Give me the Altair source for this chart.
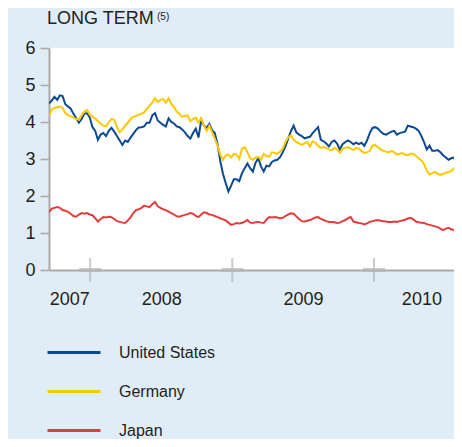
import altair as alt
import pandas as pd

countries = ["United States", "Germany", "Japan"]
colors = ["#0b4a92", "#fcc800", "#e63b3b"]

us = [4.50, 4.58, 4.68, 4.60, 4.72, 4.70, 4.48, 4.42, 4.36, 4.22,
      4.10, 3.98, 4.08, 4.22, 4.24, 4.12, 3.86, 3.76, 3.52, 3.66,
      3.70, 3.62, 3.76, 3.84, 3.74, 3.62, 3.50, 3.38, 3.50, 3.46,
      3.58, 3.68, 3.78, 3.85, 3.86, 3.88, 3.98, 3.98, 4.18, 4.24,
      4.04, 3.98, 3.92, 3.88, 4.10, 4.00, 3.96, 3.88, 3.86, 3.80,
      3.72, 3.62, 3.55, 3.70, 3.82, 3.58, 4.05, 3.90, 3.84, 3.95,
      3.78, 3.70, 3.40, 2.95, 2.60, 2.35, 2.12, 2.28, 2.45, 2.45,
      2.40, 2.62, 2.75, 2.88, 2.75, 2.66, 2.90, 3.02, 2.80, 2.66,
      2.82, 2.80, 2.92, 2.96, 2.98, 3.05, 3.18, 3.35, 3.55, 3.75,
      3.90, 3.72, 3.66, 3.62, 3.56, 3.58, 3.60, 3.70, 3.78, 3.86,
      3.52, 3.48, 3.42, 3.34, 3.46, 3.50, 3.42, 3.26, 3.40, 3.46,
      3.50, 3.46, 3.40, 3.44, 3.40, 3.44, 3.36, 3.50, 3.70, 3.84,
      3.86, 3.82, 3.74, 3.68, 3.66, 3.70, 3.74, 3.76, 3.66, 3.70,
      3.72, 3.74, 3.90, 3.88, 3.86, 3.82, 3.76, 3.62, 3.45, 3.26,
      3.36, 3.22, 3.22, 3.24, 3.18, 3.10, 3.04, 2.98, 3.02, 3.04,
      2.90, 2.76, 2.62]

de = [4.16, 4.34, 4.38, 4.40, 4.42, 4.38, 4.24, 4.18, 4.16, 4.12,
      4.08, 4.06, 4.18, 4.28, 4.32, 4.20, 4.14, 4.10, 4.02, 3.96,
      3.90, 3.88, 4.00, 4.08, 4.06, 3.86, 3.72, 3.80, 3.90, 3.98,
      4.08, 4.14, 4.16, 4.20, 4.22, 4.26, 4.36, 4.44, 4.52, 4.64,
      4.54, 4.60, 4.62, 4.52, 4.64, 4.48, 4.40, 4.28, 4.22, 4.14,
      4.16, 4.18, 4.02, 4.08, 4.12, 3.98, 4.10, 3.90, 3.76, 3.90,
      3.72, 3.55, 3.36, 3.12, 2.98, 3.10, 3.12, 3.04, 3.14, 3.12,
      3.00, 3.28, 3.32, 3.18, 3.02, 2.98, 3.04, 3.06, 2.98, 3.14,
      3.08, 3.06, 3.18, 3.16, 3.14, 3.20, 3.28, 3.46, 3.58, 3.64,
      3.52, 3.46, 3.42, 3.38, 3.42, 3.46, 3.34, 3.48, 3.44, 3.36,
      3.30, 3.32, 3.30, 3.26, 3.24, 3.30, 3.26, 3.17, 3.28, 3.30,
      3.32, 3.28, 3.24, 3.30, 3.28, 3.22, 3.16, 3.18, 3.22, 3.36,
      3.38, 3.32, 3.26, 3.22, 3.20, 3.18, 3.22, 3.18, 3.12, 3.14,
      3.16, 3.12, 3.10, 3.14, 3.14, 3.08, 3.02, 2.96, 2.86, 2.68,
      2.58, 2.62, 2.65, 2.60, 2.57, 2.60, 2.63, 2.64, 2.68, 2.74,
      2.60, 2.46, 2.36]

jp = [1.56, 1.66, 1.68, 1.70, 1.68, 1.62, 1.60, 1.57, 1.52, 1.46,
      1.44, 1.50, 1.54, 1.52, 1.54, 1.50, 1.48, 1.40, 1.31, 1.38,
      1.43, 1.42, 1.44, 1.43, 1.38, 1.32, 1.30, 1.28, 1.27, 1.34,
      1.42, 1.54, 1.62, 1.64, 1.68, 1.74, 1.72, 1.70, 1.78, 1.84,
      1.72, 1.68, 1.64, 1.62, 1.58, 1.54, 1.50, 1.45, 1.44, 1.47,
      1.49, 1.51, 1.54, 1.52, 1.46, 1.43, 1.50, 1.56, 1.54, 1.50,
      1.49, 1.46, 1.43, 1.40, 1.37, 1.34, 1.28, 1.22, 1.24, 1.27,
      1.26, 1.27, 1.31, 1.35, 1.28, 1.27, 1.29, 1.30, 1.28, 1.27,
      1.36, 1.43, 1.42, 1.43, 1.42, 1.40, 1.41, 1.46, 1.50, 1.53,
      1.52, 1.45, 1.38, 1.32, 1.31, 1.33, 1.35, 1.38, 1.42, 1.43,
      1.38, 1.35, 1.32, 1.30, 1.30, 1.29, 1.27, 1.28, 1.32, 1.35,
      1.40, 1.43, 1.31, 1.29, 1.27, 1.26, 1.23, 1.26, 1.30, 1.32,
      1.34, 1.35, 1.33, 1.32, 1.31, 1.30, 1.30, 1.31, 1.30, 1.32,
      1.34, 1.36, 1.39, 1.41, 1.37, 1.31, 1.29, 1.28, 1.27, 1.24,
      1.22, 1.20, 1.18, 1.16, 1.12, 1.08, 1.12, 1.14, 1.10, 1.08,
      1.04, 1.00, 0.95]

year_starts = ["2008-01-01", "2009-01-01", "2010-01-01"]
year_labels = [(2007, 11, 8), (2008, 7, 2), (2009, 7, 2), (2010, 5, 3)]
y_ticks = [0, 1, 2, 3, 4, 5, 6]

dates = pd.date_range("2007-09-17", periods=len(us), freq="7D").strftime("%Y-%m-%d")
rows = []
for name, series in zip(countries, [us, de, jp]):
    for d, v in zip(dates, series):
        rows.append({"country": name, "date": d, "value": v})
df = pd.DataFrame(rows)

def dt(y, m, d):
    return alt.DateTime(year=y, month=m, date=d, utc=True)

GRAY = "#a9a9a9"
TXT = "#231f20"
FONT = "Liberation Sans"

xscale = alt.Scale(type="utc", domain=[dt(2007, 9, 17), dt(2010, 7, 26)])
yscale = alt.Scale(domain=[0, 6], nice=False, zero=False)

xaxis = alt.Axis(values=[dt(*v) for v in year_labels],
                 labelExpr="utcFormat(datum.value, '%Y')",
                 tickSize=0, labelPadding=20, labelFontSize=18,
                 labelColor=TXT, labelFont=FONT, domainColor=GRAY,
                 domainWidth=2, grid=False, title=None,
                 labelFlush=False, labelOverlap=False)
yaxis = alt.Axis(values=y_ticks, tickSize=9, tickWidth=1.5,
                 tickColor=GRAY, domainColor=GRAY, domainWidth=2,
                 labelPadding=5, labelFontSize=18, labelColor=TXT,
                 labelFont=FONT, grid=False, title=None,
                 labelOverlap=False)

lines = alt.Chart(df).mark_line(strokeWidth=2, clip=True).encode(
    x=alt.X("date:T", scale=xscale, axis=xaxis),
    y=alt.Y("value:Q", scale=yscale, axis=yaxis),
    color=alt.Color("country:N",
                    scale=alt.Scale(domain=countries, range=colors),
                    sort=countries,
                    legend=alt.Legend(title=None, orient="none",
                                      legendX=15.5, legendY=295,
                                      direction="vertical",
                                      symbolType="M-3.31,0L3.31,0",
                                      symbolSize=256,
                                      symbolStrokeWidth=3, labelOffset=35.5,
                                      labelFontSize=16, labelColor=TXT,
                                      labelFont=FONT, rowPadding=21,
                                      padding=0)),
)

cross_df = pd.DataFrame({"date": year_starts, "value": [0] * len(year_starts)})
cross_v = alt.Chart(cross_df).mark_tick(orient="vertical", size=24, thickness=2,
                                        color="#b5b5b5").encode(
    x=alt.X("date:T", scale=xscale, axis=xaxis),
    y=alt.Y("value:Q", scale=yscale, axis=yaxis))
cross_h = alt.Chart(cross_df).mark_tick(orient="horizontal", size=22, thickness=4,
                                        color="#b5b5b5").encode(
    x=alt.X("date:T", scale=xscale, axis=xaxis),
    y=alt.Y("value:Q", scale=yscale, axis=yaxis))

title = alt.Chart(pd.DataFrame({"t": ["LONG TERM"]})).mark_text(
    align="left", baseline="alphabetic", fontSize=18, font=FONT, color=TXT
).encode(x=alt.value(-2), y=alt.value(-24), text="t:N")
sup = alt.Chart(pd.DataFrame({"t": ["(5)"]})).mark_text(
    align="left", baseline="alphabetic", fontSize=10, font=FONT, color=TXT
).encode(x=alt.value(108), y=alt.value(-28), text="t:N")

chart = alt.layer(lines, cross_v, cross_h, title, sup).properties(
    width=405, height=222,
    autosize=alt.AutoSizeParams(type="none"),
    padding={"left": 41, "top": 40, "right": 0, "bottom": 169},
    background="#e0ecf6",
).configure_view(fill="white", strokeWidth=0)

chart.save("out.html", embed_options={"renderer": "svg", "actions": False})
